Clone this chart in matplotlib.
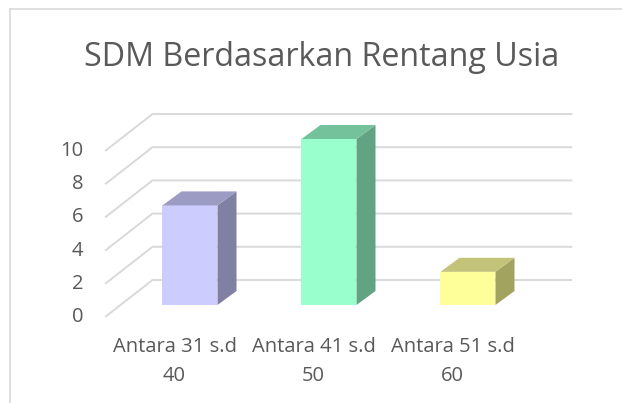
import matplotlib
matplotlib.use('Agg')
import matplotlib.pyplot as plt
from matplotlib.patches import Polygon
from matplotlib.lines import Line2D

categories = ["Antara 31 s.d\n40", "Antara 41 s.d\n50", "Antara 51 s.d\n60"]
values = [6, 10, 2]
yticks = [0, 2, 4, 6, 8, 10]
title = "SDM Berdasarkan Rentang Usia"
front_colors = ['#CCCCFF', '#99FFCC', '#FFFF99']
side_colors = ['#8080A2', '#62A383', '#A3A360']
top_colors = ['#9B9BC3', '#74C29B', '#C3C379']

plt.rcParams['font.family'] = ['Open Sans', 'DejaVu Sans']
TXT = '#595959'
GRID = '#D9D9D9'

W, H = 622, 403
fig = plt.figure(figsize=(W / 100, H / 100), dpi=100)
ax = fig.add_axes([0, 0, 1, 1])
ax.axis('off')
PX_X, PX_Y = 139.0, 16.6
x0px, y0px = 190.0, H - 305.0
ax.set_xlim(-x0px / PX_X, (W - x0px) / PX_X)
ax.set_ylim(-y0px / PX_Y, (H - y0px) / PX_Y)


def off(dx_px, dy_px):
    return dx_px / PX_X, dy_px / PX_Y


bx, by = off(32, 25)      # back wall
fx, fy = off(-15.4, -12)  # front edge
dx, dy = off(19, 14)      # bar depth
n = len(categories)
xl, xr = -0.5, n - 0.5 + 0.02

for t in yticks:
    ax.plot([xl + fx, xl + bx, xr + bx], [t + fy, t + by, t + by],
            color=GRID, lw=1.4, zorder=1, solid_capstyle='butt')
    ax.text(xl + fx - 21.5 / PX_X, t + fy, str(t), ha='right', va='center',
            fontsize=14.5, color=TXT)

w = 55 / PX_X
xs = list(range(n))
ax.bar(xs, values, width=w, color=front_colors, zorder=3, linewidth=0)
for x, v, sc, tc in zip(xs, values, side_colors, top_colors):
    r = x + w / 2
    l = x - w / 2
    ax.add_patch(Polygon([(r, 0), (r + dx, dy), (r + dx, v + dy), (r, v)],
                         closed=True, facecolor=sc, edgecolor='none', zorder=3))
    ax.add_patch(Polygon([(l, v), (l + dx, v + dy), (r + dx, v + dy), (r, v)],
                         closed=True, facecolor=tc, edgecolor='none', zorder=3))

for x, c in zip(xs, categories):
    ax.text(x + fx, fy - 20 / PX_Y, c, ha='center', va='top', ma='center',
            fontsize=14.5, color=TXT, linespacing=1.6)

fig.text(322 / W, 1 - 58 / H, title, ha='center', va='center', fontsize=23.2,
         color=TXT)

fig.add_artist(Line2D([10 / W, 10 / W], [0, 1 - 9 / H], color=GRID, lw=1.2))
fig.add_artist(Line2D([10 / W, 1], [1 - 9 / H, 1 - 9 / H], color=GRID, lw=1.2))

fig.savefig('out.png', dpi=100)
